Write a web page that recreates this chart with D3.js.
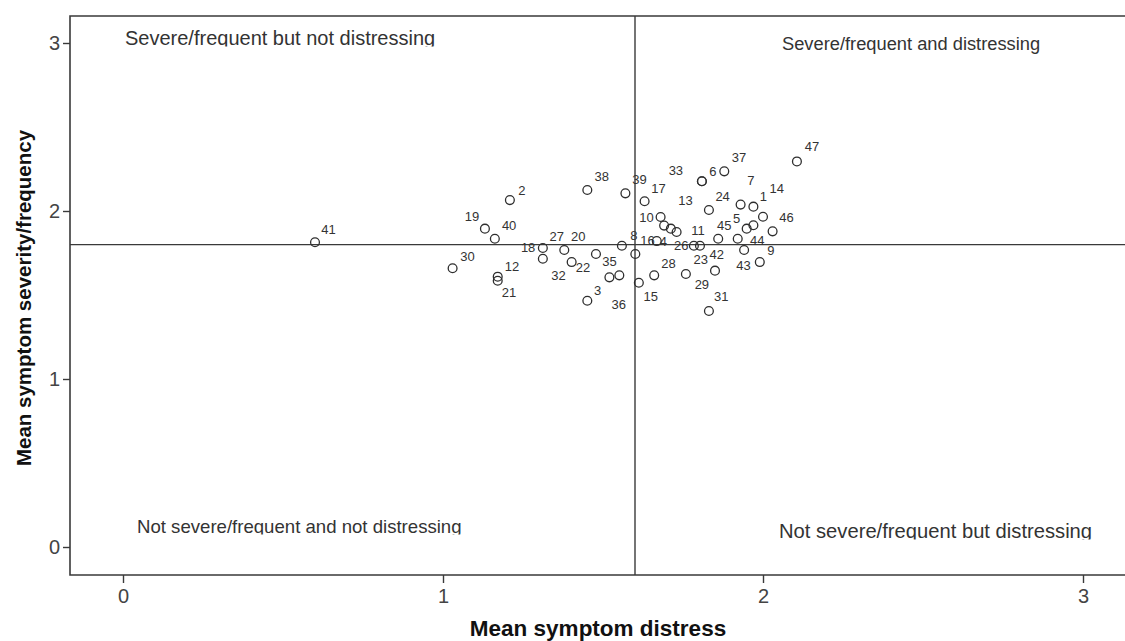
<!DOCTYPE html>
<html>
<head>
<meta charset="utf-8">
<script src="https://cdn.jsdelivr.net/npm/d3@7"></script>
<style>
  body { margin: 0; background: #fff; }
  svg { font-family: Arial, "Liberation Sans", sans-serif; }
</style>
</head>
<body>
<figure id="scatter" style="margin:0"></figure>
<script>
// symptom number of every point
const symptomIds = [1,2,3,4,5,6,7,8,9,10,11,12,13,14,15,16,17,18,19,20,21,22,23,24,
  25,26,27,28,29,30,31,32,33,34,35,36,37,38,39,40,41,42,43,44,45,46,47];

// mean distress (x) and mean severity/frequency (y)
const meanDistress = [1.970,1.209,1.451,1.668,1.949,1.809,1.930,1.559,1.990,1.680,
  1.730,1.171,1.712,2.000,1.612,1.601,1.630,1.312,1.131,1.478,1.171,1.402,1.803,1.831,
  1.691,1.784,1.379,1.660,1.759,1.030,1.831,1.312,1.809,1.970,1.520,1.551,1.879,1.451,
  1.570,1.162,0.600,1.850,1.941,1.921,1.860,2.030,2.106];
const meanSeverity = [2.026,2.065,1.466,1.821,1.895,2.177,2.038,1.793,1.696,1.964,
  1.875,1.609,1.895,1.966,1.573,1.744,2.058,1.780,1.895,1.744,1.585,1.696,1.793,2.006,
  1.913,1.793,1.768,1.617,1.625,1.659,1.405,1.716,2.177,1.915,1.605,1.617,2.236,2.125,
  2.105,1.835,1.814,1.645,1.768,1.835,1.835,1.879,2.295];

const xTicks = [0, 1, 2, 3];
const yTicks = [0, 1, 2, 3];

// cut points for the quadrant lines
const distressCut = 1.6;
const severityCut = 1.8;

const quadrantNames = [
  "Severe/frequent but not distressing",
  "Severe/frequent and distressing",
  "Not severe/frequent and not distressing",
  "Not severe/frequent but distressing"
];

const xTitle = "Mean symptom distress";
const yTitle = "Mean symptom severity/frequency";

// label placement (pixels from the marker); 25 and 34 are hidden under other marks
const labelOffsets = {
  1:[10,-10], 2:[12,-10], 3:[10.4,-10], 4:[6.6,0], 5:[-10,-10.4], 6:[11,-10.3],
  7:[10.3,-24.7], 8:[12,-10], 9:[11,-11.3], 10:[-14,0.7], 11:[21.3,-1.3], 12:[14.3,-10.7],
  13:[14.6,-28.7], 14:[13.7,-28.4], 15:[12,14], 16:[12.2,-13.5], 17:[14,-13], 18:[-14.7,-1],
  19:[-13,-12.7], 20:[-17.7,-17.3], 21:[11.3,11.3], 22:[11.3,5], 23:[0.7,13.6], 24:[13.7,-13.3],
  26:[-12.7,-0.4], 27:[-7.6,-13.3], 28:[14.4,-12], 29:[16,10.3], 30:[15,-12.3], 31:[12.3,-14.3],
  32:[15.6,16.3], 33:[-26,-11.3], 35:[0,-16.3], 36:[-0.6,29], 37:[14.7,-13.6], 38:[14.4,-13.3],
  39:[14,-14], 40:[14.3,-13.7], 41:[13.5,-13.3], 42:[1.7,-16.7], 43:[-0.7,15], 44:[19.6,1.3],
  45:[6,-13], 46:[14,-14], 47:[15,-15.2]
};

const width = 1125, height = 641;
const ink = "#3a3a3a";

const svg = d3.select("figure#scatter")
  .append("svg")
  .attr("width", width)
  .attr("height", height);

const x = d3.scaleLinear().domain([0, 3]).range([123, 1083]);
const y = d3.scaleLinear().domain([0, 3]).range([547, 43]);

const frameLeft = 70, frameTop = 16, frameBottom = 575, frameRight = 1140;

// frame (right edge runs off the picture)
svg.append("path")
  .attr("d", `M${frameRight},${frameTop}H${frameLeft}V${frameBottom}H${frameRight}`)
  .attr("fill", "none")
  .attr("stroke", ink)
  .attr("stroke-width", 1.6);

// axes
const xAxis = svg.append("g")
  .attr("transform", "translate(0," + frameBottom + ")")
  .call(d3.axisBottom(x).tickValues(xTicks).tickFormat(d3.format("d")).tickSize(8).tickPadding(6));
const yAxis = svg.append("g")
  .attr("transform", "translate(" + frameLeft + ",0)")
  .call(d3.axisLeft(y).tickValues(yTicks).tickFormat(d3.format("d")).tickSize(7).tickPadding(3));

[xAxis, yAxis].forEach(g => {
  g.select(".domain").remove();
  g.selectAll(".tick line").attr("stroke", ink).attr("stroke-width", 1.4);
  g.selectAll(".tick text")
    .attr("fill", "#444")
    .style("font-size", "20px")
    .style("font-family", "Arial, 'Liberation Sans', sans-serif");
});

// quadrant lines
svg.append("line")
  .attr("x1", x(distressCut)).attr("x2", x(distressCut))
  .attr("y1", frameTop).attr("y2", frameBottom)
  .attr("stroke", ink).attr("stroke-width", 1.4);
svg.append("line")
  .attr("x1", frameLeft).attr("x2", frameRight)
  .attr("y1", y(severityCut)).attr("y2", y(severityCut))
  .attr("stroke", ink).attr("stroke-width", 1.4);

// quadrant captions (some have their descenders cut off, as in the source)
const captionPos = [
  { x: 125, base: 45, size: 20, clip: true },
  { x: 782, base: 50, size: 18.3, clip: false },
  { x: 137, base: 533, size: 18.6, clip: true },
  { x: 779, base: 538, size: 20.2, clip: true }
];
const defs = svg.append("defs");
quadrantNames.forEach((name, i) => {
  const p = captionPos[i];
  const t = svg.append("text")
    .attr("x", p.x)
    .attr("y", p.base)
    .attr("fill", "#333")
    .style("font-size", p.size + "px")
    .text(name);
  if (p.clip) {
    defs.append("clipPath").attr("id", "cap" + i)
      .append("rect")
      .attr("x", p.x - 5).attr("y", p.base - 30)
      .attr("width", 420).attr("height", 31.5);
    t.attr("clip-path", "url(#cap" + i + ")");
  }
});

// points
const points = symptomIds.map((id, i) => ({ id: id, dist: meanDistress[i], sev: meanSeverity[i] }));

svg.selectAll("circle.pt")
  .data(points)
  .enter()
  .append("circle")
  .attr("class", "pt")
  .attr("cx", d => x(d.dist))
  .attr("cy", d => y(d.sev))
  .attr("r", 4.4)
  .attr("fill", "none")
  .attr("stroke", "#2e2e2e")
  .attr("stroke-width", 1.3);

svg.selectAll("text.lbl")
  .data(points.filter(d => labelOffsets[d.id]))
  .enter()
  .append("text")
  .attr("class", "lbl")
  .attr("x", d => x(d.dist) + labelOffsets[d.id][0])
  .attr("y", d => y(d.sev) + labelOffsets[d.id][1])
  .attr("dy", "0.36em")
  .attr("text-anchor", "middle")
  .attr("fill", "#333")
  .style("font-size", "13px")
  .text(d => d.id);

// axis titles
svg.append("text")
  .attr("x", 598)
  .attr("y", 636)
  .attr("text-anchor", "middle")
  .attr("fill", "#111")
  .style("font-size", "22.5px")
  .style("font-weight", "bold")
  .text(xTitle);

svg.append("text")
  .attr("transform", "translate(31,298) rotate(-90)")
  .attr("text-anchor", "middle")
  .attr("fill", "#111")
  .style("font-size", "20.5px")
  .style("font-weight", "bold")
  .text(yTitle);
</script>
</body>
</html>
